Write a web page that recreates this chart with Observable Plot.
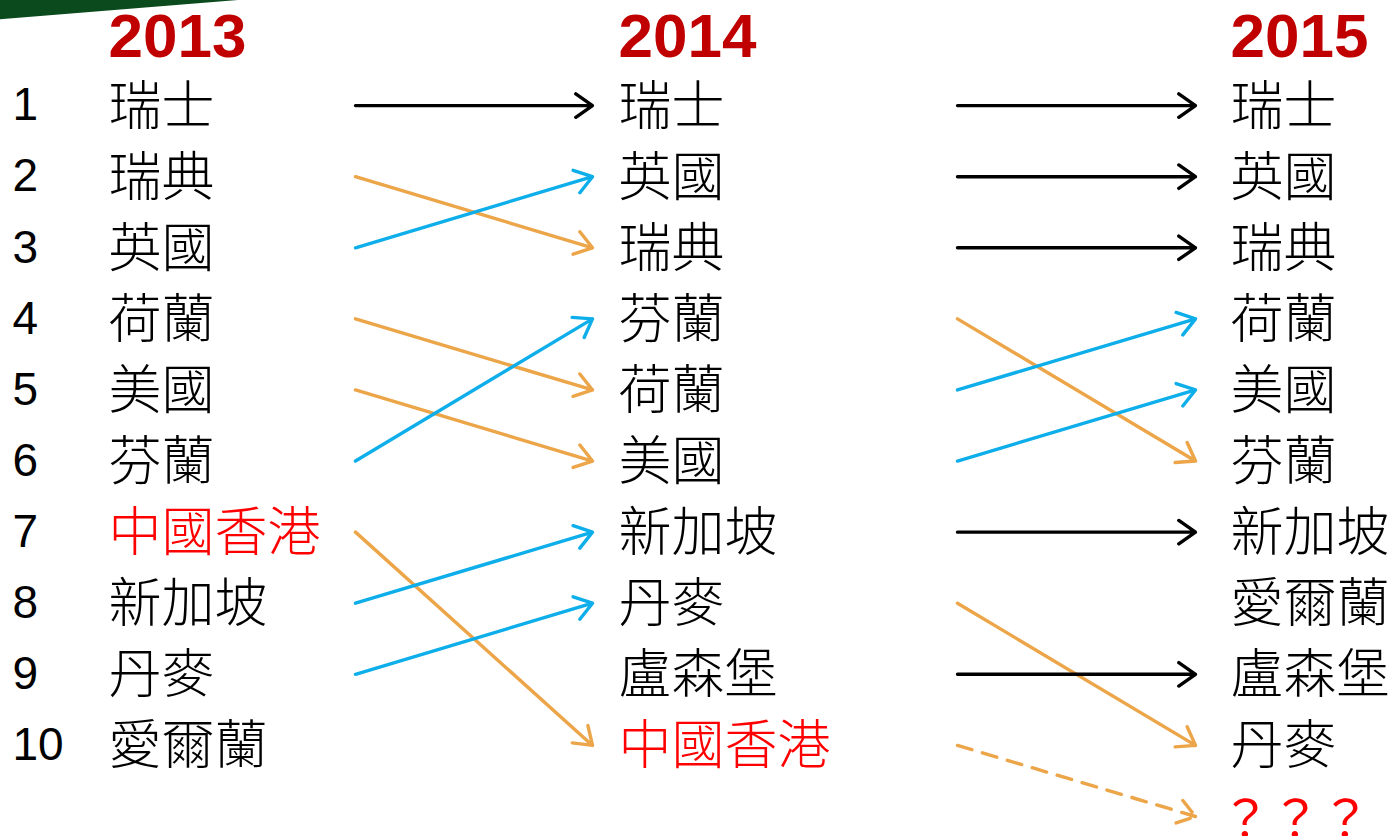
<!DOCTYPE html>
<html><head><meta charset="utf-8">
<script src="https://cdn.jsdelivr.net/npm/d3@7"></script>
<script src="https://cdn.jsdelivr.net/npm/@observablehq/plot@0.6"></script>
<style>
html,body{margin:0;padding:0;background:#fff;}
#wrap{position:relative;width:1392px;height:836px;overflow:hidden;}
#deco{position:absolute;left:0;top:0;width:238px;height:21px;background:#0B4A1C;clip-path:polygon(0 0,100% 0,0 92%);}
#chart{position:absolute;left:0;top:0;}
</style>
</head><body>
<div id="wrap"><div id="chart"></div><div id="deco"></div></div>
<script>
const years = ["2013", "2014", "2015"];
const rank2013 = ["瑞士","瑞典","英國","荷蘭","美國","芬蘭","中國香港","新加坡","丹麥","愛爾蘭"];
const rank2014 = ["瑞士","英國","瑞典","芬蘭","荷蘭","美國","新加坡","丹麥","盧森堡","中國香港"];
const rank2015 = ["瑞士","英國","瑞典","荷蘭","美國","芬蘭","新加坡","愛爾蘭","盧森堡","丹麥"];
const unknownLabel = "？？？";
const highlight = "中國香港";

// layout (pixels)
const colX = [108, 618, 1230];
const arrowX = [[355, 592], [957, 1195]];
const numX = 12;
const colors = {up: "#0EAEEA", down: "#ECA548", same: "#000000"};

const lists = [rank2013, rank2014, rank2015];
const labels = [];
lists.forEach((list, c) => list.forEach((name, i) => labels.push({col: c, rank: i + 1, name})));
const unknown = [{col: 2, rank: 11, name: unknownLabel}];
const nums = d3.range(1, 11).map(r => ({rank: r}));
const heads = years.map((y, c) => ({col: c, year: y}));

const arrows = [];
for (let c = 0; c < 2; c++) {
  lists[c].forEach((name, i) => {
    const j = lists[c + 1].indexOf(name);
    const from = i + 1;
    if (j >= 0) {
      const to = j + 1;
      arrows.push({c, from, to, dashed: false, kind: to < from ? "up" : to > from ? "down" : "same"});
    } else if (c === 1) {
      arrows.push({c, from, to: 11, dashed: true, kind: "down"});
    }
  });
}

const cjk = "'Noto Sans CJK TC', 'Noto Sans CJK SC', sans-serif";
const plot = Plot.plot({
  width: 1392, height: 836,
  margin: 0,
  x: {type: "identity"},
  y: {domain: [0, 11], range: [34, 816], axis: null},
  style: {background: "transparent"},
  marks: [
    Plot.arrow(arrows.filter(d => !d.dashed), {
      x1: d => arrowX[d.c][0], x2: d => arrowX[d.c][1], y1: "from", y2: "to",
      stroke: d => colors[d.kind], strokeWidth: 3.4, headLength: 9, headAngle: 70
    }),
    Plot.arrow(arrows.filter(d => d.dashed), {
      x1: d => arrowX[d.c][0], x2: d => arrowX[d.c][1], y1: "from", y2: "to",
      stroke: d => colors[d.kind], strokeWidth: 3.4, headLength: 9, headAngle: 70,
      strokeDasharray: "15,11"
    }),
    Plot.text(heads, {x: d => colX[d.col], y: () => 0, text: "year", textAnchor: "start",
      fontSize: 62, fontWeight: "bold", fill: "#C00000", fontFamily: "'Liberation Sans', Arial, sans-serif", dy: 3}),
    Plot.text(nums, {x: () => numX, y: "rank", text: d => String(d.rank), textAnchor: "start",
      fontSize: 46, fill: "#000", fontFamily: "'Liberation Sans', Arial, sans-serif"}),
    Plot.text(labels, {x: d => colX[d.col], y: "rank", text: "name", textAnchor: "start",
      fontSize: 53,
      fill: d => d.name === highlight ? "#FF0000" : "#000",
      fontFamily: cjk, fontWeight: 300, dy: 2}),
    Plot.text(unknown, {x: d => colX[d.col], y: "rank", text: "name", textAnchor: "start",
      fontSize: 50, fill: "#FF0000", fontFamily: cjk, fontWeight: 400, dx: -10, dy: 4})
  ]
});
document.getElementById("chart").appendChild(plot);
</script>
</body></html>
